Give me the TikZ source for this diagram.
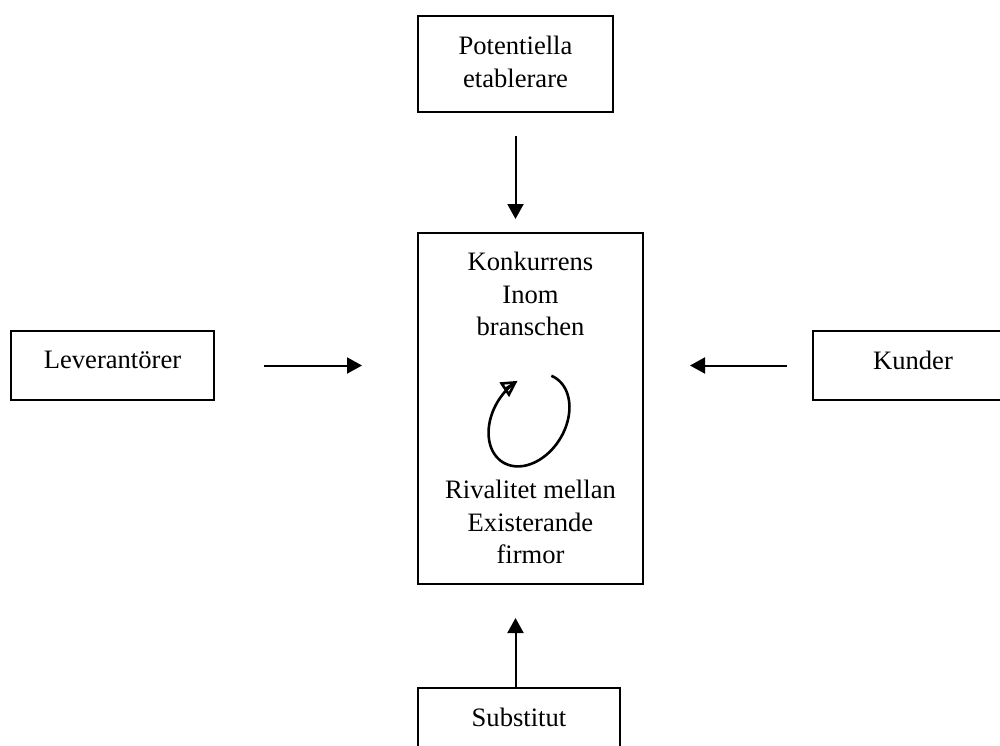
\documentclass[tikz,border=0pt]{standalone}
\usepackage{fontspec}
\setmainfont{Liberation Serif}
\usetikzlibrary{arrows.meta}
\begin{document}
\begin{tikzpicture}[x=0.5pt,y=-0.5pt,
  box/.style={draw, line width=1pt, inner sep=0pt},
  lbl/.style={align=center, font=\fontsize{13.3}{16.25}\selectfont, inner sep=0pt},
  arr/.style={line width=1pt, -{Triangle[length=7.5pt,width=8pt]}}]
\useasboundingbox (0,0) rectangle (1000,745);
\clip (0,0) rectangle (1000,745);
% boxes
\node[box, minimum width=97.5pt, minimum height=48pt] (top) at (515.5,64) {};
\node[box, minimum width=112.5pt, minimum height=175.5pt] (mid) at (530.5,408.5) {};
\node[box, minimum width=101.5pt, minimum height=34.5pt] (lev) at (112.5,365.5) {};
\node[box, minimum width=100pt, minimum height=34.5pt] (kund) at (913,365.5) {};
\node[box, minimum width=101pt, minimum height=36pt] (sub) at (519,724) {};
% texts
\node[lbl] (ttop) at (515.5,62) {Potentiella\\etablerare};
\node[lbl] (tmid1) at (530.5,294) {Konkurrens\\Inom\\branschen};
\node[lbl] (tmid2) at (530.5,522) {Rivalitet mellan\\Existerande\\firmor};
\node[lbl] (tlev) at (112.5,360) {Leverantörer};
\node[lbl] (tkund) at (913,360) {Kunder};
\node[lbl] (tsub) at (519,717) {Substitut};
% arrows
\draw[arr, shorten <=11.5pt, shorten >=6.5pt] (top.south) -- (mid.north -| top.south);
\draw[arr, shorten <=24.5pt, shorten >=27.5pt] (lev.east) -- (lev.east -| mid.west);
\draw[arr, shorten <=12.5pt, shorten >=23pt] (kund.west) -- (kund.west -| mid.east);
\draw[arr, shorten >=16.5pt] (sub.north -| top.south) -- (mid.south -| top.south);
% loop
\draw[line width=1.3pt, {Triangle[open,length=8pt,width=8.5pt]}-, domain=-245:65, samples=90, smooth, variable=\t]
  plot ({529+40*cos(\t)+6*sin(\t)}, {420-46*sin(\t)-6*cos(\t)});
\end{tikzpicture}
\end{document}
